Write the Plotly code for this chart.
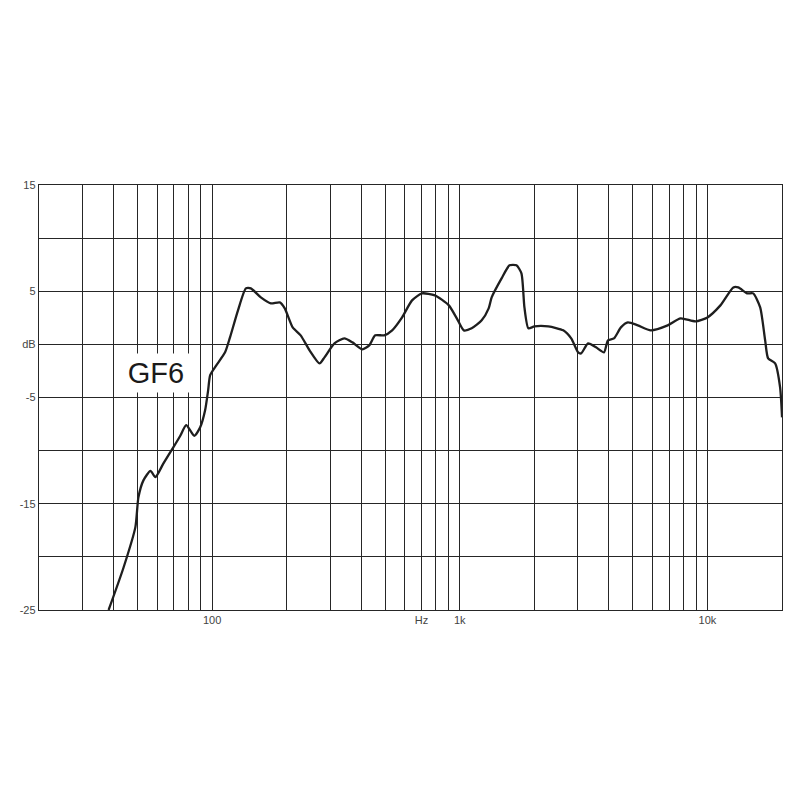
import plotly.graph_objects as go

# Frequency response of GF6 (Hz, dB)
freq_hz = [38.2, 43.9, 49.0, 50.4, 52.8, 56.4, 59.0, 63.6, 69.7, 74.4, 78.6, 84.7, 89.5, 93.7,
           96.4, 98.2, 103.8, 112.8, 118.1, 127.2, 136.9, 143.4, 157.3, 172.6, 187.6, 196.5,
           211.5, 227.8, 247.5, 271.5, 284.3, 311.9, 342.0, 368.3, 404.1, 431.0, 455.6, 495.1,
           533.3, 584.9, 641.6, 703.9, 793.6, 903.3, 972.7, 1038, 1117, 1226, 1308, 1345, 1475,
           1588, 1694, 1774, 1824, 1893, 2001, 2277, 2617, 2818, 3006, 3090, 3297, 3550, 3822,
           3966, 4193, 4473, 4772, 5235, 5904, 6909, 7791, 8950, 10000, 11280, 12720, 13320,
           14470, 15300, 16330, 17100, 17580, 18760, 19650, 20010]
level_db = [-25.0, -21.0, -17.2, -14.4, -12.8, -11.9, -12.5, -11.2, -9.7, -8.6, -7.6, -8.6, -7.8,
            -6.2, -4.3, -2.9, -2.0, -0.75, 0.66, 3.2, 5.27, 5.27, 4.42, 3.86, 3.95, 3.39, 1.6,
            0.85, -0.56, -1.79, -1.22, 0.09, 0.56, 0.19, -0.47, -0.09, 0.85, 0.85, 1.32, 2.54,
            4.14, 4.8, 4.61, 3.67, 2.45, 1.32, 1.51, 2.26, 3.39, 4.42, 6.21, 7.44, 7.44, 6.68,
            3.48, 1.51, 1.69, 1.69, 1.32, 0.56, -0.75, -0.85, 0.09, -0.28, -0.75, 0.38, 0.56,
            1.6, 2.07, 1.79, 1.32, 1.79, 2.45, 2.16, 2.54, 3.67, 5.36, 5.36, 4.8, 4.8, 3.48,
            0.38, -1.32, -1.79, -4.05, -6.87]

x_grid = [20, 30, 40, 50, 60, 70, 80, 90, 100, 200, 300, 400, 500, 600, 700, 800, 900,
          1000, 2000, 3000, 4000, 5000, 6000, 7000, 8000, 9000, 10000, 20000]
x_labels = {100: "100", 700: "Hz", 1000: "1k", 10000: "10k"}
y_grid = [15, 10, 5, 0, -5, -10, -15, -20, -25]
y_labels = {15: "15", 5: "5", 0: "dB", -5: "-5", -15: "-15", -25: "-25"}

fig = go.Figure()
fig.add_trace(go.Scatter(
    x=freq_hz, y=level_db, mode="lines",
    line=dict(color="#1e1e1e", width=2.3, shape="spline", smoothing=0.6),
    showlegend=False, hoverinfo="skip",
))

fig.add_annotation(
    x=1.775, y=-2.73, xref="x", yref="y", text="GF6", showarrow=False,
    font=dict(family="Liberation Sans, Arial, sans-serif", size=29, color="#1a1a1a"),
    bgcolor="white", width=72, height=36,
)

tick_font = dict(family="Liberation Sans, Arial, sans-serif", size=11, color="#444444")
fig.update_xaxes(
    type="log", range=[1.30103, 4.30103],
    tickvals=x_grid, ticktext=[x_labels.get(v, "") for v in x_grid],
    showgrid=True, gridcolor="#262626", gridwidth=1.4,
    showline=True, linecolor="#262626", linewidth=1.4, mirror=True,
    ticks="", tickfont=tick_font, zeroline=False,
)
fig.update_yaxes(
    range=[-25, 15],
    tickvals=y_grid, ticktext=[y_labels.get(v, "") for v in y_grid],
    showgrid=True, gridcolor="#262626", gridwidth=1.4,
    showline=True, linecolor="#262626", linewidth=1.4, mirror=True,
    ticks="", tickfont=tick_font, zeroline=False,
)
fig.update_layout(
    width=800, height=800,
    margin=dict(l=27, r=26, t=177, b=198),
    paper_bgcolor="white", plot_bgcolor="white",
)
fig.write_html("out.html")
